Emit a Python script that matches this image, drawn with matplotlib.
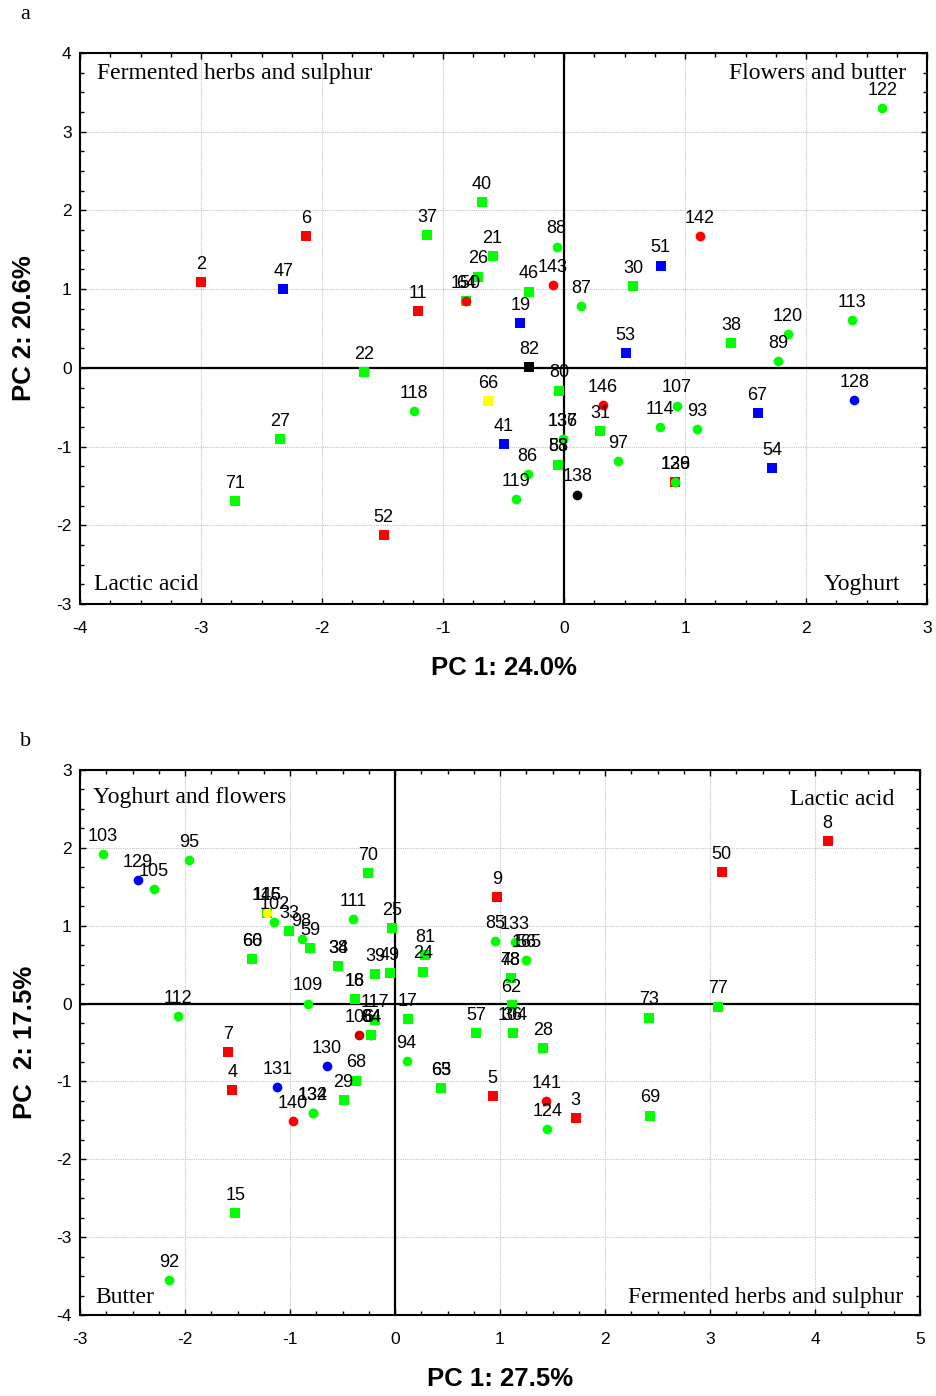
import matplotlib
matplotlib.use("Agg")
import matplotlib.pyplot as plt
from matplotlib.ticker import MultipleLocator

plt.rcParams["font.family"] = ["Liberation Sans", "DejaVu Sans"]
plt.rcParams["axes.unicode_minus"] = False

# ── panel a data ──────────────────────────────────────────────────────────────
a_labels = ["2", "47", "6", "11", "37", "40", "21", "26", "150", "64",
            "19", "46", "143", "88", "87", "30", "51", "142", "53", "38",
            "89", "120", "113", "122", "82", "22", "118", "27", "71", "52",
            "66", "41", "80", "146", "107", "114", "93", "67", "128", "54",
            "31", "136", "137", "97", "86", "119", "58", "83", "138", "126",
            "139"]
a_x = [-3.00, -2.32, -2.13, -1.21, -1.13, -0.68, -0.59, -0.71, -0.81, -0.81,
       -0.36, -0.29, -0.09, -0.06, 0.14, 0.57, 0.80, 1.12, 0.51, 1.38,
       1.77, 1.85, 2.38, 2.63, -0.29, -1.65, -1.24, -2.35, -2.72, -1.49,
       -0.63, -0.50, -0.04, 0.32, 0.93, 0.79, 1.10, 1.60, 2.40, 1.72,
       0.30, -0.01, -0.01, 0.45, -0.30, -0.40, -0.05, -0.05, 0.11, 0.92,
       0.92]
a_y = [1.09, 1.00, 1.67, 0.72, 1.69, 2.11, 1.42, 1.16, 0.85, 0.85,
       0.57, 0.97, 1.05, 1.54, 0.78, 1.04, 1.30, 1.67, 0.19, 0.31,
       0.09, 0.43, 0.61, 3.30, 0.01, -0.05, -0.55, -0.91, -1.69, -2.12,
       -0.42, -0.97, -0.29, -0.47, -0.48, -0.75, -0.78, -0.57, -0.41, -1.27,
       -0.80, -0.91, -0.91, -1.18, -1.35, -1.67, -1.23, -1.23, -1.61, -1.45,
       -1.45]
# group: r=red, g=green, b=blue, k=black, y=yellow, d=dark red
a_group = ["r", "b", "r", "r", "g", "g", "g", "g", "g", "r",
           "b", "g", "r", "g", "g", "g", "b", "r", "b", "g",
           "g", "g", "g", "g", "k", "g", "g", "g", "g", "r",
           "y", "b", "g", "r", "g", "g", "g", "b", "b", "b",
           "g", "g", "g", "g", "g", "g", "g", "g", "k", "r",
           "g"]
# shape: s=square, o=circle
a_shape = ["s", "s", "s", "s", "s", "s", "s", "s", "s", "o",
           "s", "s", "o", "o", "o", "s", "s", "o", "s", "s",
           "o", "o", "o", "o", "s", "s", "o", "s", "s", "s",
           "s", "s", "s", "o", "o", "o", "o", "s", "o", "s",
           "s", "o", "o", "o", "o", "o", "s", "s", "o", "s",
           "o"]

# ── panel b data ──────────────────────────────────────────────────────────────
b_labels = ["103", "129", "105", "95", "112", "7", "4", "145", "116", "102",
            "33", "98", "59", "60", "66", "34", "38", "39", "49", "109",
            "16", "18", "111", "70", "25", "117", "106", "84", "64", "17",
            "94", "81", "24", "68", "130", "131", "29", "132", "134", "140",
            "15", "92", "63", "65", "5", "141", "124", "3", "69", "73",
            "77", "50", "8", "9", "85", "133", "56", "165", "48", "78",
            "62", "36", "104", "57", "28"]
b_x = [-2.78, -2.45, -2.30, -1.96, -2.07, -1.59, -1.55, -1.22, -1.22, -1.15,
       -1.01, -0.89, -0.81, -1.36, -1.36, -0.54, -0.54, -0.19, -0.05, -0.83,
       -0.38, -0.38, -0.40, -0.26, -0.03, -0.19, -0.34, -0.23, -0.23, 0.12,
       0.11, 0.29, 0.27, -0.37, -0.65, -1.12, -0.49, -0.78, -0.78, -0.97,
       -1.52, -2.15, 0.44, 0.44, 0.93, 1.44, 1.45, 1.72, 2.43, 2.42,
       3.08, 3.11, 4.12, 0.97, 0.95, 1.14, 1.25, 1.25, 1.10, 1.10,
       1.11, 1.12, 1.12, 0.77, 1.41]
b_y = [1.92, 1.59, 1.47, 1.84, -0.16, -0.62, -1.11, 1.16, 1.16, 1.05,
       0.93, 0.83, 0.71, 0.57, 0.57, 0.48, 0.48, 0.38, 0.39, 0.00,
       0.06, 0.06, 1.09, 1.68, 0.97, -0.21, -0.41, -0.41, -0.41, -0.20,
       -0.74, 0.62, 0.41, -0.99, -0.80, -1.07, -1.24, -1.41, -1.41, -1.51,
       -2.69, -3.55, -1.09, -1.09, -1.19, -1.25, -1.61, -1.47, -1.44, -0.18,
       -0.04, 1.69, 2.09, 1.37, 0.80, 0.79, 0.56, 0.56, 0.33, 0.33,
       -0.02, -0.38, -0.38, -0.38, -0.57]
b_group = ["g", "b", "g", "g", "g", "r", "r", "g", "y", "g",
           "g", "g", "g", "g", "g", "g", "g", "g", "g", "g",
           "g", "g", "g", "g", "g", "g", "d", "d", "g", "g",
           "g", "g", "g", "g", "b", "b", "g", "g", "g", "r",
           "g", "g", "g", "g", "r", "r", "g", "r", "g", "g",
           "g", "r", "r", "r", "g", "g", "y", "g", "g", "g",
           "g", "g", "g", "g", "g"]
b_shape = ["o", "o", "o", "o", "o", "s", "s", "s", "o", "o",
           "s", "o", "s", "s", "s", "s", "s", "s", "s", "o",
           "s", "s", "o", "s", "s", "s", "o", "o", "s", "s",
           "o", "s", "s", "s", "o", "o", "s", "o", "o", "o",
           "s", "o", "s", "s", "s", "o", "o", "s", "s", "s",
           "s", "s", "s", "s", "o", "o", "o", "o", "s", "s",
           "s", "s", "s", "s", "s"]

colors = {"r": "#FF0000", "g": "#00FF00", "b": "#0000FF",
          "k": "#000000", "y": "#FFFF00", "d": "#C80000"}

SERIF = ["Liberation Serif", "DejaVu Serif"]


def draw_panel(ax, labels, xs, ys, groups, shapes, xlim, ylim):
    ax.set_xlim(*xlim)
    ax.set_ylim(*ylim)
    ax.xaxis.set_major_locator(MultipleLocator(1))
    ax.yaxis.set_major_locator(MultipleLocator(1))
    ax.xaxis.set_minor_locator(MultipleLocator(0.25))
    ax.yaxis.set_minor_locator(MultipleLocator(0.25))
    ax.grid(True, which="major", color="#C4C4C4", linestyle=(0, (1, 1)), lw=0.8)
    ax.set_axisbelow(True)
    ax.axhline(0, color="black", lw=1.6, zorder=1)
    ax.axvline(0, color="black", lw=1.6, zorder=1)
    for sp in ax.spines.values():
        sp.set_linewidth(1.5)
    ax.tick_params(which="both", direction="in", top=True, right=True,
                   labelsize=12.5)
    ax.tick_params(which="major", length=4, width=1)
    ax.tick_params(which="minor", length=3, width=1)
    ax.tick_params(axis="x", pad=12)
    ax.tick_params(axis="y", pad=6)

    for lbl, x, y, g, m in zip(labels, xs, ys, groups, shapes):
        ms = 7.2 if m == "s" else 7.0
        ax.plot(x, y, marker=m, ms=ms, color=colors[g], mew=0,
                linestyle="none", zorder=3)
        ax.annotate(lbl, (x, y), xytext=(0, 9.5), textcoords="offset points",
                    ha="center", va="baseline", fontsize=13, zorder=4)


fig = plt.figure(figsize=(9.36, 13.96), dpi=100)
fig.patch.set_facecolor("white")

# ── panel a ──────────────────────────────────────────────────────────────────
ax1 = fig.add_axes([80 / 936, 1 - 604 / 1396, 847 / 936, 551 / 1396])
draw_panel(ax1, a_labels, a_x, a_y, a_group, a_shape, (-4, 3), (-3, 4))
ax1.set_xlabel("PC 1: 24.0%", fontsize=18.5, fontweight="bold")
ax1.set_ylabel("PC 2: 20.6%", fontsize=18.5, fontweight="bold")
ax1.xaxis.set_label_coords(0.5, -0.094)
ax1.yaxis.set_label_coords(-0.052, 0.5)
ax1.text(0.020, 0.953, "Fermented herbs and sulphur", transform=ax1.transAxes,
         family=SERIF, fontsize=17, ha="left", va="baseline")
ax1.text(0.975, 0.953, "Flowers and butter", transform=ax1.transAxes,
         family=SERIF, fontsize=17, ha="right", va="baseline")
ax1.text(0.0165, 0.025, "Lactic acid", transform=ax1.transAxes,
         family=SERIF, fontsize=17, ha="left", va="baseline")
ax1.text(0.968, 0.025, "Yoghurt", transform=ax1.transAxes,
         family=SERIF, fontsize=17, ha="right", va="baseline")

# ── panel b ──────────────────────────────────────────────────────────────────
ax2 = fig.add_axes([80 / 936, 1 - 1315 / 1396, 840 / 936, 545 / 1396])
draw_panel(ax2, b_labels, b_x, b_y, b_group, b_shape, (-3, 5), (-4, 3))
ax2.set_xlabel("PC 1: 27.5%", fontsize=18.5, fontweight="bold")
ax2.set_ylabel("PC  2: 17.5%", fontsize=18.5, fontweight="bold")
ax2.xaxis.set_label_coords(0.5, -0.095)
ax2.yaxis.set_label_coords(-0.051, 0.5)
ax2.text(0.015, 0.939, "Yoghurt and flowers", transform=ax2.transAxes,
         family=SERIF, fontsize=17, ha="left", va="baseline")
ax2.text(0.970, 0.936, "Lactic acid", transform=ax2.transAxes,
         family=SERIF, fontsize=17, ha="right", va="baseline")
ax2.text(0.018, 0.022, "Butter", transform=ax2.transAxes,
         family=SERIF, fontsize=17, ha="left", va="baseline")
ax2.text(0.980, 0.022, "Fermented herbs and sulphur", transform=ax2.transAxes,
         family=SERIF, fontsize=17, ha="right", va="baseline")

fig.text(0.0214, 1 - 19 / 1396, "a", family=SERIF, fontsize=16, va="baseline")
fig.text(0.0214, 1 - 746 / 1396, "b", family=SERIF, fontsize=16, va="baseline")

fig.savefig("out.png", dpi=100, facecolor="white")
